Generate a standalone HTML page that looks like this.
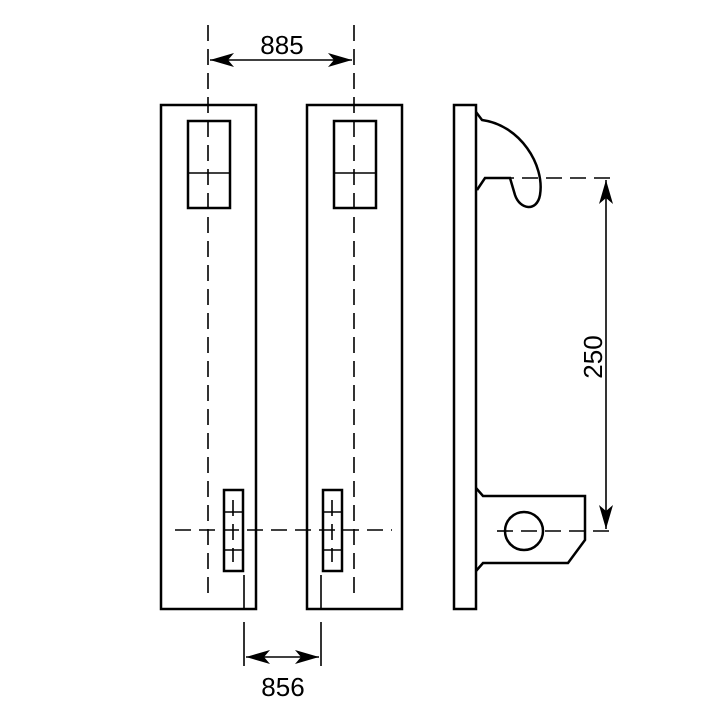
<!DOCTYPE html><html><head><style>body{margin:0;background:#fff}</style></head><body>
<svg width="715" height="715" xmlns="http://www.w3.org/2000/svg" font-family="Liberation Sans, sans-serif">
<defs><marker id="a" viewBox="0 0 24 14" refX="24" refY="7" markerWidth="24" markerHeight="14" markerUnits="userSpaceOnUse" orient="auto-start-reverse"><path d="M0,0 L24,7 L0,14 L6,7z" fill="#000"/></marker></defs>
<g fill="none" stroke="#000" stroke-width="2.5">
<rect x="161" y="105" width="95" height="504"/>
<rect x="307" y="105" width="95" height="504"/>
<rect x="188" y="121" width="42" height="87"/>
<rect x="334" y="121" width="42" height="87"/>
<rect x="224" y="490" width="19" height="81"/>
<rect x="323" y="490" width="19" height="81"/>
<rect x="454" y="105" width="22" height="504"/>
<path d="M476,112 L482,120 C520,125 545,165 540,195 C537,212 520,210 515,195 L510,178 L485,178 L477,190"/>
<path d="M476,488 L483,496 L585,496 L585,540 L568,563 L483,563 L476,571"/>
<circle cx="524" cy="531" r="19"/>
</g>
<g stroke="#000" stroke-width="1.6" fill="none">
<line x1="188" y1="173" x2="230" y2="173"/><line x1="334" y1="173" x2="376" y2="173"/>
<line x1="224" y1="512" x2="243" y2="512"/><line x1="224" y1="550" x2="243" y2="550"/>
<line x1="323" y1="512" x2="342" y2="512"/><line x1="323" y1="550" x2="342" y2="550"/>
<g stroke-dasharray="16,8">
<line x1="208" y1="25" x2="208" y2="600"/><line x1="354" y1="25" x2="354" y2="600"/>
<line x1="175" y1="530" x2="392" y2="530"/>
<line x1="498" y1="178" x2="615" y2="178"/><line x1="497" y1="531" x2="615" y2="531"/>
<line x1="233" y1="500" x2="233" y2="562"/><line x1="332" y1="500" x2="332" y2="562"/>
</g>
<line x1="244" y1="575" x2="244" y2="610"/><line x1="321" y1="575" x2="321" y2="610"/>
<line x1="244" y1="622" x2="244" y2="666"/><line x1="321" y1="622" x2="321" y2="666"/>
<line x1="210" y1="60" x2="352" y2="60" marker-start="url(#a)" marker-end="url(#a)"/>
<line x1="246" y1="657" x2="319" y2="657" marker-start="url(#a)" marker-end="url(#a)"/>
<line x1="606" y1="180" x2="606" y2="529" marker-start="url(#a)" marker-end="url(#a)"/>
</g>
<text x="282" y="54" font-size="26" text-anchor="middle">885</text>
<text x="283" y="696" font-size="26" text-anchor="middle">856</text>
<text x="0" y="0" font-size="26" text-anchor="middle" transform="translate(602,357) rotate(-90)">250</text>
</svg></body></html>
